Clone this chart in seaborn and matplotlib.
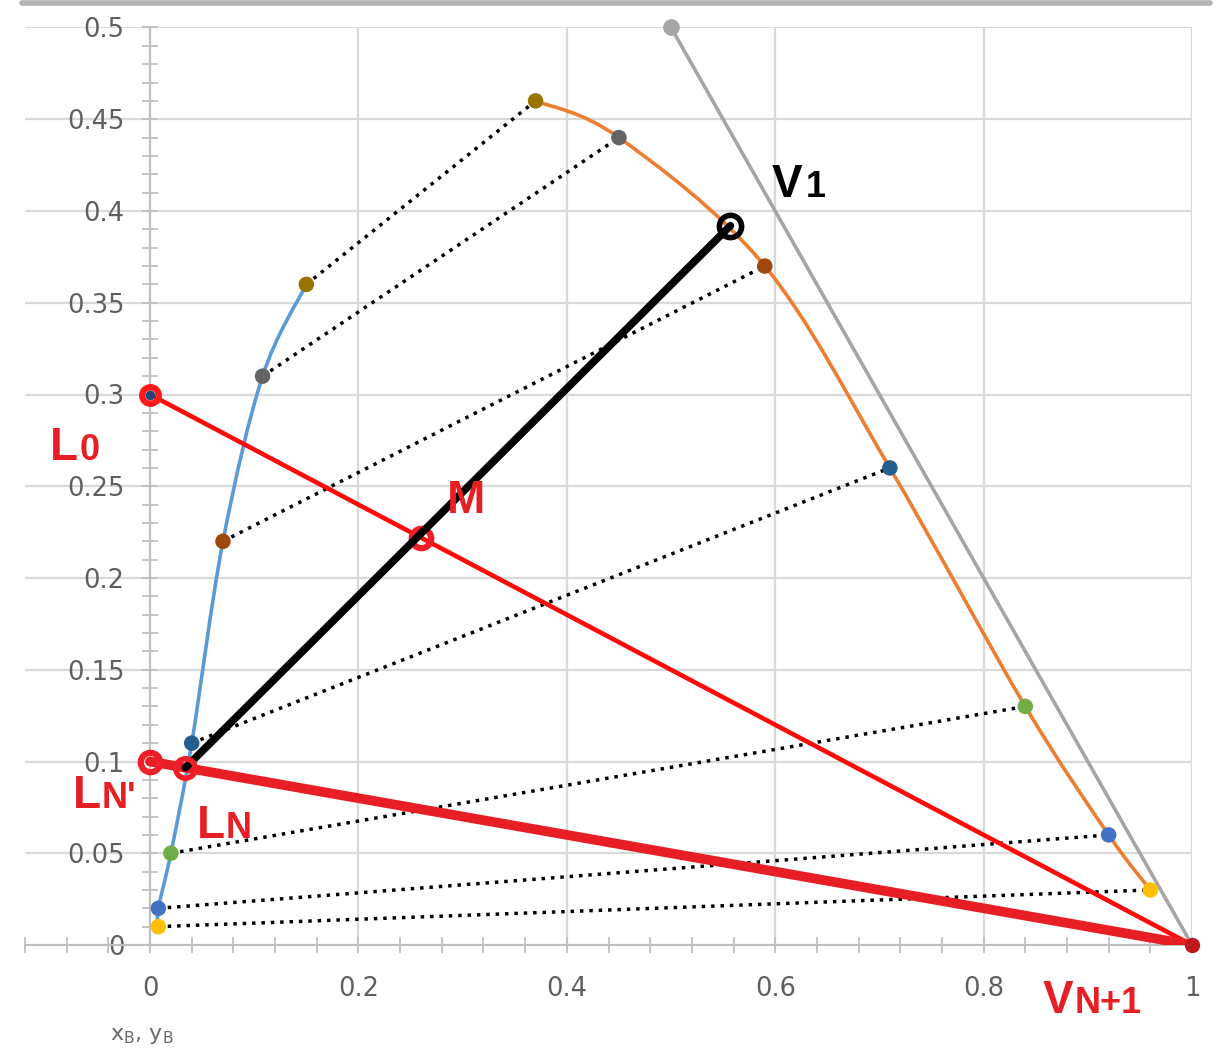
import numpy as np
import pandas as pd
import matplotlib
matplotlib.use("Agg")
import matplotlib.pyplot as plt
import seaborn as sns
from matplotlib.path import Path
from matplotlib.patches import PathPatch
from matplotlib.lines import Line2D
from matplotlib.transforms import offset_copy

# ---------------- data ----------------
tie_ids = ["t1", "t2", "t3", "t4", "t5", "t6", "t7"]
tie_colors = ["#FFC000", "#4472C4", "#70AD47", "#255E91", "#9E480E", "#636363", "#997300"]
raff_x = [0.008, 0.008, 0.02, 0.04, 0.07, 0.108, 0.15]
raff_y = [0.01, 0.02, 0.05, 0.11, 0.22, 0.31, 0.36]
ext_x = [0.96, 0.92, 0.84, 0.71, 0.59, 0.45, 0.37]
ext_y = [0.03, 0.06, 0.13, 0.26, 0.37, 0.44, 0.46]

hyp_x = [0.5, 1.0]
hyp_y = [0.5, 0.0]

L0 = (0.0, 0.3)
M = (0.26, 0.222)
V1 = (0.557, 0.392)
LNp = (0.0, 0.1)
LN = (0.034, 0.0966)
VN1 = (1.0, 0.0)

x_ticks = [0, 0.2, 0.4, 0.6, 0.8, 1.0]
x_tick_labels = ["0", "0.2", "0.4", "0.6", "0.8", "1"]
y_ticks = [0, 0.05, 0.1, 0.15, 0.2, 0.25, 0.3, 0.35, 0.4, 0.45, 0.5]
y_tick_labels = ["0", "0.05", "0.1", "0.15", "0.2", "0.25", "0.3", "0.35", "0.4", "0.45", "0.5"]

# ---------------- figure ----------------
sns.set_theme(style="white")
plt.rcParams["font.family"] = ["DejaVu Sans"]

W, H = 1223, 1051
fig = plt.figure(figsize=(W / 100, H / 100), dpi=100)
x0px, x1px = 25, 1192
y0px, y1px = 945, 27.5
ax = fig.add_axes([x0px / W, (H - y0px) / H, (x1px - x0px) / W, (y0px - y1px) / H])

grid_c = "#d9d9d9"
axis_c = "#bfbfbf"
txt_c = "#5f5f5f"

# ---------------- tie lines ----------------
for i in range(len(tie_ids)):
    dft = pd.DataFrame({"x": [raff_x[i], ext_x[i]], "y": [raff_y[i], ext_y[i]]})
    sns.lineplot(data=dft, x="x", y="y", ax=ax, sort=False, estimator=None,
                 color="black", linewidth=2.5, linestyle=(0, (1, 1.7)), zorder=2)


# ---------------- smoothed curves (Excel-like) ----------------
def smooth_path(xs, ys):
    pts = np.column_stack([xs, ys]).astype(float)
    n = len(pts)
    verts = [pts[0]]
    codes = [Path.MOVETO]
    for i in range(n - 1):
        p0 = pts[i - 1] if i > 0 else pts[i]
        p1 = pts[i]
        p2 = pts[i + 1]
        p3 = pts[i + 2] if i + 2 < n else pts[i + 1]
        verts += [p1 + (p2 - p0) / 6.0, p2 - (p3 - p1) / 6.0, p2]
        codes += [Path.CURVE4] * 3
    return Path(verts, codes)


ax.add_patch(PathPatch(smooth_path(raff_x, raff_y), facecolor="none", edgecolor="#5B9BD5",
                       linewidth=2.6, zorder=3, transform=ax.transData))
ax.add_patch(PathPatch(smooth_path(ext_x, ext_y), facecolor="none", edgecolor="#ED7D31",
                       linewidth=2.6, zorder=3, transform=ax.transData))

# gray line
sns.lineplot(x=hyp_x, y=hyp_y, ax=ax, sort=False, estimator=None, color="#A5A5A5",
             linewidth=2.6, zorder=3)
ax.plot(hyp_x[:1], hyp_y[:1], "o", color="#A5A5A5", markersize=11, clip_on=False, zorder=4)

# equilibrium points
pts = pd.DataFrame({
    "x": raff_x + ext_x,
    "y": raff_y + ext_y,
    "tie": tie_ids + tie_ids,
})
sns.scatterplot(data=pts, x="x", y="y", hue="tie", palette=dict(zip(tie_ids, tie_colors)),
                s=125, edgecolor="none", legend=False, ax=ax, zorder=4, clip_on=False)

# ---------------- mass balance lines ----------------
sns.lineplot(x=[L0[0], VN1[0]], y=[L0[1], VN1[1]], ax=ax, sort=False, estimator=None,
             color="#FF0A0A", linewidth=3.3, zorder=5)
sns.lineplot(x=[LNp[0], VN1[0]], y=[LNp[1], VN1[1]], ax=ax, sort=False, estimator=None,
             color="#E81E25", linewidth=7, zorder=5)
sns.lineplot(x=[LN[0], V1[0]], y=[LN[1], V1[1]], ax=ax, sort=False, estimator=None,
             color="black", linewidth=5.5, zorder=6)

ax.plot([L0[0]], [L0[1]], "o", color="#264478", markersize=6, zorder=6, clip_on=False)
ax.plot([VN1[0]], [VN1[1]], "o", color="#C0181E", markersize=10, zorder=6, clip_on=False)

ring = dict(linestyle="none", marker="o", markerfacecolor="none", clip_on=False)
ax.plot([L0[0]], [L0[1]], markeredgecolor="#FF1A1A", markersize=12, markeredgewidth=4.5,
        zorder=7, **ring)
ax.plot([M[0]], [M[1]], markeredgecolor="#F01E28", markersize=14, markeredgewidth=4.5,
        zorder=5.5, **ring)
ax.plot([V1[0]], [V1[1]], markeredgecolor="black", markersize=16, markeredgewidth=4,
        zorder=7, **ring)
ax.plot([LNp[0]], [LNp[1]], markeredgecolor="#F01E28", markersize=14, markeredgewidth=4.5,
        zorder=7, **ring)
ax.plot([LN[0]], [LN[1]], markeredgecolor="#F01E28", markersize=14, markeredgewidth=4,
        zorder=7, **ring)

# ---------------- axes styling ----------------
ax.set_xlim(-0.12, 1.0)
ax.set_ylim(0, 0.5)
ax.set_axisbelow(True)
ax.set_xticks(x_ticks)
ax.set_xticklabels(x_tick_labels)
ax.set_xticks(np.arange(-0.12, 1.0001, 0.04), minor=True)
ax.set_yticks(y_ticks)
ax.set_yticklabels(y_tick_labels)
ax.set_yticks(np.arange(0, 0.5001, 0.01), minor=True)
ax.grid(True, which="major", color=grid_c, linewidth=1.6)
ax.grid(False, which="minor")

for s in ["top", "right"]:
    ax.spines[s].set_visible(False)
ax.spines["left"].set_position(("data", 0))
ax.spines["left"].set_color(axis_c)
ax.spines["bottom"].set_color(axis_c)
ax.spines["left"].set_linewidth(1.5)
ax.spines["bottom"].set_linewidth(1.5)
ax.tick_params(which="both", direction="inout", length=11, width=1.3, color=axis_c,
               labelsize=18.5, labelcolor=txt_c)
ax.tick_params(axis="y", which="both", pad=13, left=True)
ax.tick_params(axis="x", which="both", pad=17, bottom=True)
ax.set_xlabel("")
ax.set_ylabel("")

# ---------------- labels ----------------
renderer = fig.canvas.get_renderer()
lab_font = ["Liberation Sans", "DejaVu Sans"]


def mixed_label(x, y, big, small, color, gap=1):
    t = ax.text(x, y, big, color=color, fontsize=33, fontweight="bold", family=lab_font,
                ha="left", va="baseline", zorder=9, clip_on=False)
    w = t.get_window_extent(renderer=renderer).width
    if small:
        tr = offset_copy(ax.transData, fig=fig, x=w + gap, y=0, units="dots")
        ax.text(x, y, small, color=color, fontsize=26, fontweight="bold", family=lab_font,
                ha="left", va="baseline", zorder=9, transform=tr, clip_on=False)


red_lab = "#E81E25"
mixed_label(-0.096, 0.2643, "L", "0", red_lab)
mixed_label(0.285, 0.2354, "M", "", red_lab)
mixed_label(0.597, 0.4076, "V", "1", "black", gap=3)
mixed_label(-0.074, 0.0745, "L", "N'", red_lab)
mixed_label(0.045, 0.0583, "L", "N", red_lab)
mixed_label(0.857, -0.037, "V", "N+1", red_lab)

# axis title and top frame bar
fig.text(110 / W, (H - 1040) / H, r"x$_\mathregular{B}$, y$_\mathregular{B}$", fontsize=16,
         color="#6a6a6a", ha="left", va="baseline")
fig.add_artist(Line2D([22 / W, 1210 / W], [1 - 3 / H, 1 - 3 / H], transform=fig.transFigure,
                      color="#b3b3b3", linewidth=4))

fig.savefig("out.png", dpi=100)
